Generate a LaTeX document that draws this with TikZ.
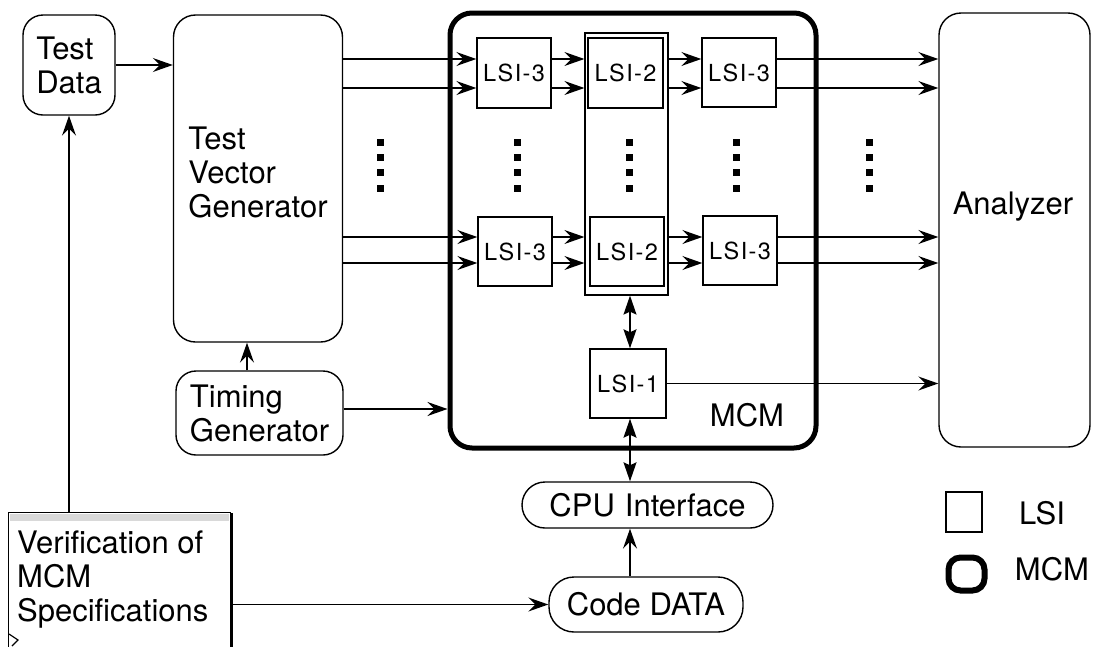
\documentclass[tikz,border=0pt]{standalone}
\usepackage{fontspec}
\setmainfont{TeX Gyre Heros}
\usetikzlibrary{arrows.meta}
\newcommand\lsiname[1]{{\fontsize{23.5}{25}\selectfont L\kern1.5pt S\kern1.5pt I\kern1.3pt-\kern1.3pt#1}}
\begin{document}
\begin{tikzpicture}[x=1pt,y=-1pt,
  every node/.style={font=\fontsize{31}{34}\selectfont, inner sep=0pt},
  rbox/.style={draw, line width=1.4pt, rounded corners=20pt, rectangle},
  lsibox/.style={draw, line width=1.4pt, rectangle},
  lsiinner/.style={draw, line width=2pt, rectangle},
  arr/.style={line width=1.4pt, -{Stealth[length=20pt,width=14pt,inset=7pt]}},
  darr/.style={line width=1.4pt, {Stealth[length=19pt,width=13pt,inset=3pt]}-{Stealth[length=19pt,width=13pt,inset=3pt]}}
]
\useasboundingbox (0,0) rectangle (1098,646);
\clip (0,0) rectangle (1098,646);

% main blocks
\node[rbox, minimum width=92pt, minimum height=100pt, align=left] (testdata) at (69,65) {Test\\Data};
\node[rbox, rounded corners=22pt, minimum width=169pt, minimum height=327pt] (tvg) at (258,178.5) {};
\node[align=left] (tvglabel) at (258,172) {Test\\Vector\\Generator};
\node[rbox, minimum width=167pt, minimum height=84pt, align=left] (timing) at (259.5,413) {Timing\\Generator};
\node[draw, line width=5pt, rounded corners=22pt, minimum width=366pt, minimum height=435pt] (mcm) at (633,230.5) {};
\node (mcmlabel) at (747,415) {MCM};
\node[rbox, rounded corners=22pt, minimum width=151pt, minimum height=434pt] (anal) at (1014.5,230) {};
\node (analyzerlabel) at (1013,207) {Analyzer};

% LSI chips
\node[lsibox, minimum width=74pt, minimum height=70pt] (l3a) at (514,73) {\lsiname{3}};
\node[lsibox, minimum width=74pt, minimum height=69pt] (l3b) at (515,251.5) {\lsiname{3}};
\node[draw, line width=1.2pt, minimum width=83pt, minimum height=262pt] (l2frame) at (626.5,164) {};
\node[lsiinner, minimum width=75pt, minimum height=70pt] (l2a) at (625.5,73) {\lsiname{2}};
\node[lsiinner, minimum width=74pt, minimum height=69pt] (l2b) at (627,251.5) {\lsiname{2}};
\node[lsibox, minimum width=74pt, minimum height=69pt] (l3c) at (739,72.5) {\lsiname{3}};
\node[lsibox, minimum width=74pt, minimum height=69pt] (l3d) at (740,250.5) {\lsiname{3}};
\node[lsibox, minimum width=76pt, minimum height=69pt] (l1) at (628,383.5) {\lsiname{1}};

% bottom blocks
\node[draw, line width=1.4pt, rounded corners=23pt, minimum width=251pt, minimum height=46pt] (cpu) at (647.5,505) {CPU\hspace{10pt}Interface};
\node[draw, line width=1.4pt, rounded corners=25pt, minimum width=194pt, minimum height=55pt] (code) at (646,604.5) {Code DATA};
\node[draw, line width=1.4pt, minimum width=222pt, minimum height=150pt, anchor=north west] (verif) at (8,512) {};
\fill[gray!30] ([xshift=2pt,yshift=-2pt]verif.north west) rectangle ([xshift=-2pt,yshift=-9pt]verif.north east);
\draw[line width=3pt] ([yshift=-1pt]verif.north east) -- (verif.south east);
\node[align=left, anchor=west] (veriftext) at (17,580) {Verification of\\MCM\\Specifications};
\draw[line width=1.2pt] (9,634) -- (18,640) -- (12,646);

% legend
\node[lsibox, minimum width=36pt, minimum height=40pt] (legl) at (964,512) {};
\node (legltext) at (1042,513) {LSI};
\node[draw, line width=6pt, rounded corners=12pt, minimum width=36pt, minimum height=33pt] (legm) at (966.5,574) {};
\node (legmtext) at (1052,569) {MCM};

% row coordinates
\coordinate (ra) at (0,59);
\coordinate (rb) at (0,88);
\coordinate (rc) at (0,237);
\coordinate (rd) at (0,263);
\coordinate (ry) at (0,409);
\coordinate (vx) at (630,0);
\coordinate (tx) at (247,0);

% connectors
\foreach \r in {ra,rb} {
  \draw[arr] (tvg.east |- \r) -- (l3a.west |- \r);
  \draw[arr] (l3a.east |- \r) -- (l2frame.west |- \r);
  \draw[arr] (l2frame.east |- \r) -- (l3c.west |- \r);
  \draw[arr] (l3c.east |- \r) -- (anal.west |- \r);
}
\foreach \r in {rc,rd} {
  \draw[arr] (tvg.east |- \r) -- (l3b.west |- \r);
  \draw[arr] (l3b.east |- \r) -- (l2frame.west |- \r);
  \draw[arr] (l2frame.east |- \r) -- (l3d.west |- \r);
  \draw[arr] (l3d.east |- \r) -- (anal.west |- \r);
}
\draw[arr] (l1.east) -- (anal.west |- l1.east);
\draw[arr] (testdata.east) -- (tvg.west |- testdata.east);
\draw[arr] (testdata.south |- verif.north) -- (testdata.south);
\draw[arr] (timing.north -| tx) -- (tvg.south -| tx);
\draw[arr] (timing.east |- ry) -- (mcm.west |- ry);
\draw[arr] (verif.east |- code.west) -- (code.west);
\draw[arr] (code.north -| vx) -- (cpu.south -| vx);
\draw[darr] (cpu.north -| vx) -- (l1.south -| vx);
\draw[darr] (l1.north -| vx) -- (l2frame.south -| vx);

% continuation dots
\foreach \x in {380,517,629,736,869}
  \foreach \y in {142,157,172,188}
    \fill (\x-3.5,\y-3.5) rectangle (\x+3.5,\y+3.5);
\end{tikzpicture}
\end{document}
